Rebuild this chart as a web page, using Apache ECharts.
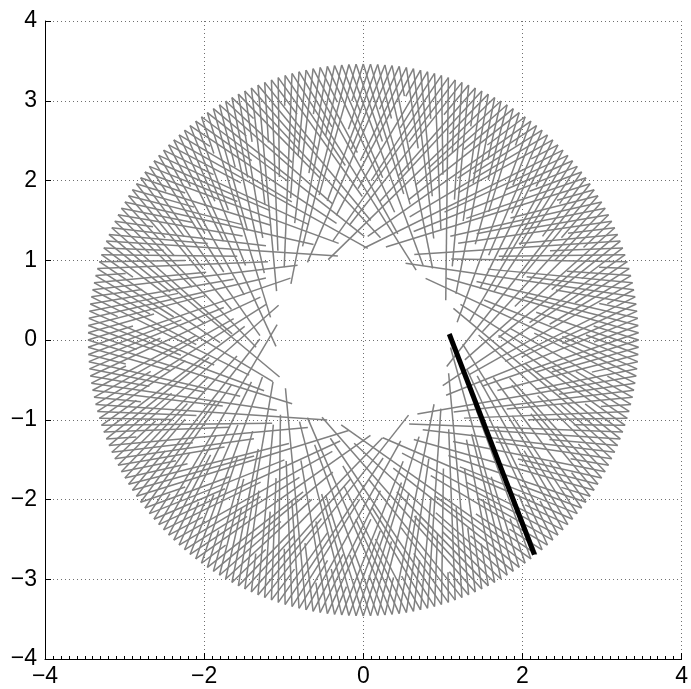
<!DOCTYPE html>
<html>
<head>
<meta charset="utf-8">
<script src="https://cdn.jsdelivr.net/npm/echarts@6/dist/echarts.min.js"></script>
<style>
  html, body { margin: 0; padding: 0; background: #fff; }
  #chart { width: 691px; height: 689px; }
</style>
</head>
<body>
<div id="chart"></div>
<script>
// Outer ring of segment tips (degrees), two segments leave each tip.
var tipAngles = [
  0,1.5,3,4.5,6,7.5,9,10.5,12,13.5,15,16.5,18,19.5,21,22.5,24,25.5,27,28.5,
  30,31.5,33,34.5,36,37.5,39,40.5,42,43.5,45,46.5,48,49.5,51,52.5,54,55.5,57,58.5,
  60,61.5,63,64.5,66,67.5,69,70.5,72,73.5,75,76.5,78,79.5,81,82.5,84,85.5,87,88.5,
  90,91.5,93,94.5,96,97.5,99,100.5,102,103.5,105,106.5,108,109.5,111,112.5,114,115.5,117,118.5,
  120,121.5,123,124.5,126,127.5,129,130.5,132,133.5,135,136.5,138,139.5,141,142.5,144,145.5,147,148.5,
  150,151.5,153,154.5,156,157.5,159,160.5,162,163.5,165,166.5,168,169.5,171,172.5,174,175.5,177,178.5,
  180,181.5,183,184.5,186,187.5,189,190.5,192,193.5,195,196.5,198,199.5,201,202.5,204,205.5,207,208.5,
  210,211.5,213,214.5,216,217.5,219,220.5,222,223.5,225,226.5,228,229.5,231,232.5,234,235.5,237,238.5,
  240,241.5,243,244.5,246,247.5,249,250.5,252,253.5,255,256.5,258,259.5,261,262.5,264,265.5,267,268.5,
  270,271.5,273,274.5,276,277.5,279,280.5,282,283.5,285,286.5,288,289.5,291,292.5,294,295.5,297,298.5,
  300,301.5,303,304.5,306,307.5,309,310.5,312,313.5,315,316.5,318,319.5,321,322.5,324,325.5,327,328.5,
  330,331.5,333,334.5,336,337.5,339,340.5,342,343.5,345,346.5,348,349.5,351,352.5,354,355.5,357,358.5
];

// Radius where each segment stops, for segments turning counter-clockwise.
var innerRadiusCcw = [
  2.9,1.3,2.1,1.6,3.0,2.5,1.1,2.2,1.8,2.7,3.1,1.5,2.0,2.6,1.25,2.3,2.9,1.7,2.45,1.95,
  1.7,2.4,3.0,1.2,2.0,2.8,1.5,2.6,1.9,1.15,3.1,2.2,1.65,2.5,2.35,1.3,2.9,1.85,2.7,2.05,
  2.3,1.1,2.8,1.75,2.1,3.0,1.45,2.55,1.3,2.0,2.7,1.9,3.1,1.6,2.25,2.9,1.2,2.4,1.8,2.65,
  3.0,1.9,1.4,2.6,1.15,2.2,2.9,1.7,2.45,2.0,1.35,3.1,2.3,1.55,2.75,1.25,2.1,2.85,1.8,2.5,
  1.5,2.7,2.0,1.2,3.0,2.35,1.75,2.55,1.1,2.15,2.9,1.6,2.4,1.95,3.1,1.3,2.6,2.2,1.7,2.8,
  2.6,1.35,2.25,2.9,1.65,1.15,2.5,2.0,3.0,1.8,2.4,1.25,2.7,2.1,1.5,3.1,1.9,2.3,1.4,2.85,
  1.2,2.45,3.0,1.7,2.1,2.75,1.4,1.95,2.9,1.1,2.3,2.6,1.55,2.0,3.1,1.3,2.5,1.85,2.2,2.8,
  2.7,1.6,2.0,1.15,2.9,2.4,1.8,2.55,1.3,2.2,3.0,1.45,2.35,1.9,2.65,1.2,3.1,2.05,1.7,2.5,
  2.1,2.9,1.25,2.6,1.75,2.3,1.1,3.0,2.45,1.5,2.0,2.8,1.35,2.7,1.9,2.25,3.1,1.6,2.4,1.85,
  1.4,2.55,2.0,3.0,1.2,2.3,1.7,2.85,2.15,1.3,2.6,1.9,3.1,1.55,2.4,1.15,2.7,2.05,2.95,1.8,
  2.5,1.8,1.1,2.35,2.9,1.6,2.2,2.75,1.35,2.0,3.0,1.5,2.45,1.25,2.1,2.8,1.7,3.1,2.3,1.95,
  1.9,3.0,2.3,1.45,2.6,1.2,2.05,2.9,1.7,2.4,1.3,2.7,1.85,3.1,2.15,1.1,2.5,1.6,2.8,2.2
];

// Radius where each segment stops, for segments turning clockwise.
var innerRadiusCw = [
  2.2,1.6,2.9,1.25,2.5,2.0,1.8,3.1,1.4,2.35,2.7,1.15,2.1,2.85,1.7,2.45,1.3,3.0,1.95,2.6,
  1.5,2.8,2.15,1.1,2.6,3.0,1.75,2.3,1.35,2.0,2.9,1.6,2.45,1.9,2.7,1.2,3.1,2.25,1.85,2.55,
  2.75,1.3,2.4,1.95,3.0,1.45,2.1,2.6,1.15,2.3,1.7,2.9,2.0,1.55,2.5,3.1,1.25,2.2,2.8,1.8,
  1.9,2.5,1.2,2.85,2.05,1.65,3.0,2.35,1.4,2.7,1.1,2.2,1.8,2.95,2.45,1.5,2.6,1.3,2.1,3.1,
  2.4,1.75,2.95,1.3,2.2,2.65,1.5,3.1,1.95,1.15,2.5,2.8,1.6,2.0,2.35,1.25,2.9,1.85,2.7,2.1,
  1.35,2.6,2.0,3.0,1.7,2.3,1.1,2.75,1.9,2.45,1.55,3.1,2.15,1.25,2.85,1.8,2.4,1.45,2.05,2.65,
  2.9,1.2,2.3,1.8,2.55,1.4,3.0,2.1,1.65,2.7,1.3,2.25,2.95,1.5,1.95,2.5,1.15,2.8,2.0,2.35,
  1.6,2.45,2.85,1.3,2.0,1.75,2.6,3.1,1.1,2.2,2.4,1.5,2.9,1.9,2.7,1.35,2.15,3.0,1.8,2.3,
  2.6,1.9,1.25,2.3,3.0,1.55,2.45,2.05,1.4,2.8,1.8,2.2,1.15,2.65,3.1,1.7,2.35,2.9,1.3,2.0,
  2.0,2.7,1.45,2.95,1.2,2.25,1.85,2.5,3.0,1.6,2.1,1.3,2.75,2.4,1.75,3.1,1.1,2.3,1.95,2.6,
  1.3,2.35,2.8,1.65,2.15,1.1,2.6,3.0,1.9,2.45,1.5,2.2,2.9,1.25,2.0,2.7,1.8,3.1,1.4,2.5,
  2.45,1.7,3.0,2.1,1.35,2.65,1.95,1.2,2.85,2.3,1.6,3.1,2.0,1.45,2.55,1.15,2.25,2.9,1.8,2.4
];

// Highlighted segment: [x, y] of both ends.
var highlightSegment = [[1.08, 0.075], [2.15, -2.69]];

var outerRadius = 3.46;   // radius of the ring of tips
var lineOffset = 1.03;    // distance of every segment's line from the origin

var xTicks = [-4, -2, 0, 2, 4];
var yTicks = [-4, -3, -2, -1, 0, 1, 2, 3, 4];

// Point at radius r on the line through tip angle phi, turning with sense s.
function innerPoint(phiDeg, r, s) {
  var phi = phiDeg * Math.PI / 180;
  var rr = Math.max(r, lineOffset);
  var tangentAngle = phi + s * Math.acos(lineOffset / outerRadius);
  var a = tangentAngle - s * Math.acos(lineOffset / rr);
  return [rr * Math.cos(a), rr * Math.sin(a)];
}
function tipPoint(phiDeg) {
  var phi = phiDeg * Math.PI / 180;
  return [outerRadius * Math.cos(phi), outerRadius * Math.sin(phi)];
}

var segments = [];
tipAngles.forEach(function (phi, i) {
  var tip = tipPoint(phi);
  segments.push({ coords: [tip, innerPoint(phi, innerRadiusCcw[i], 1)] });
  segments.push({ coords: [tip, innerPoint(phi, innerRadiusCw[i], -1)] });
});

function fmt(v) { return v < 0 ? '\u2212' + Math.abs(v) : String(v); }

var gridDots = { show: true, lineStyle: { color: '#6f6f6f', width: 1, type: [1, 3] } };
var labelFont = { color: '#000', fontFamily: 'Liberation Sans, Arial, sans-serif', fontSize: 23 };

var chart = echarts.init(document.getElementById('chart'), null, { renderer: 'canvas' });
chart.setOption({
  animation: false,
  backgroundColor: '#fff',
  grid: { left: 45, right: 2, top: 21, bottom: 30, containLabel: false },
  xAxis: {
    type: 'value', min: xTicks[0], max: xTicks[xTicks.length - 1], interval: 2,
    axisLine: { show: true, onZero: false, lineStyle: { color: '#000', width: 1 } },
    axisTick: { show: true, inside: true, length: 6, lineStyle: { color: '#000' } },
    minorTick: { show: true, splitNumber: 20, length: 3, lineStyle: { color: '#000' } },
    splitLine: gridDots,
    axisLabel: Object.assign({ margin: 6, formatter: fmt }, labelFont)
  },
  yAxis: {
    type: 'value', min: yTicks[0], max: yTicks[yTicks.length - 1], interval: 1,
    axisLine: { show: true, onZero: false, lineStyle: { color: '#000', width: 1 } },
    axisTick: { show: true, inside: true, length: 6, lineStyle: { color: '#000' } },
    splitLine: gridDots,
    axisLabel: Object.assign({ margin: 8, formatter: fmt }, labelFont)
  },
  series: [
    {
      type: 'lines', coordinateSystem: 'cartesian2d', silent: true,
      lineStyle: { color: '#808080', width: 1.5, opacity: 1 },
      data: segments, z: 2
    },
    {
      type: 'lines', coordinateSystem: 'cartesian2d', silent: true,
      lineStyle: { color: '#000', width: 5, opacity: 1, cap: 'butt' },
      data: [{ coords: highlightSegment }], z: 3
    }
  ]
});
</script>
</body>
</html>
